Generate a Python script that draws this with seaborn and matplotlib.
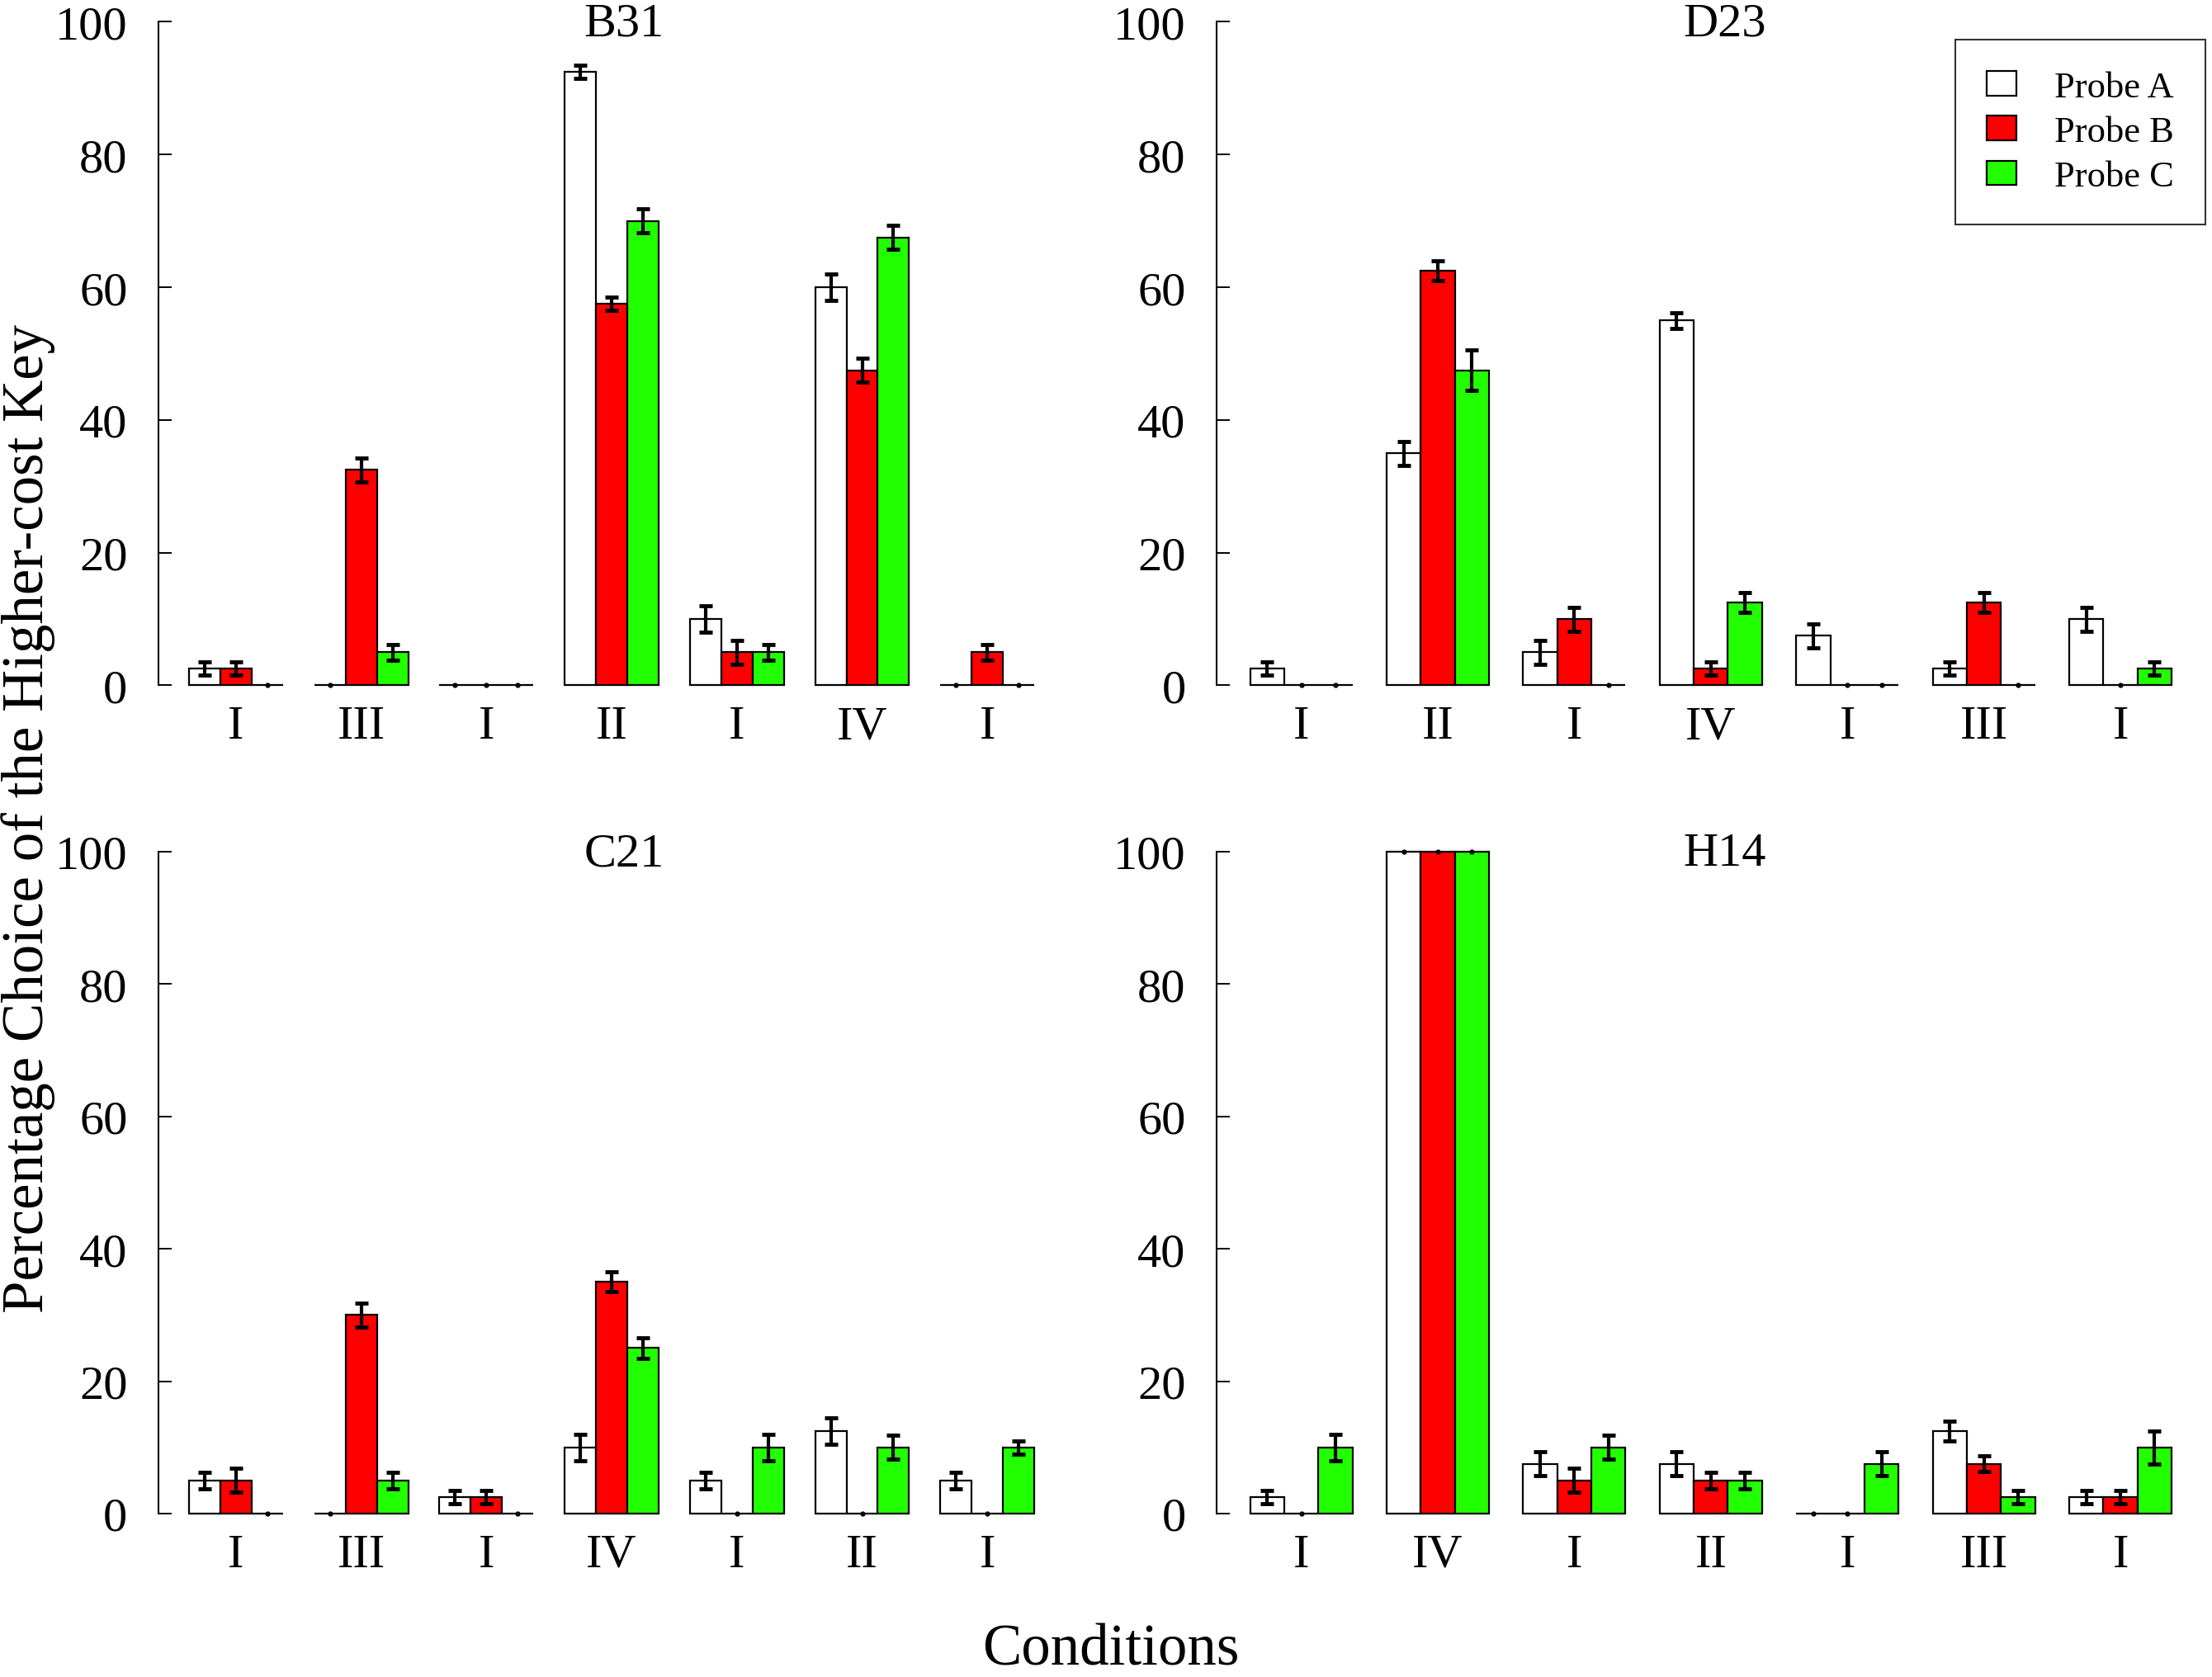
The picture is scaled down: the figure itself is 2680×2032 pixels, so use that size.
import pandas as pd
import numpy as np
import matplotlib
matplotlib.use("Agg")
import matplotlib.pyplot as plt
import seaborn as sns
from matplotlib.patches import Patch

# Dane (procent wyboru klucza o wyzszym koszcie)
probes = ["Probe A", "Probe B", "Probe C"]
colors = ["#FFFFFF", "#FF0000", "#22FF00"]

b31_conds = ["I", "III", "I", "II", "I", "IV", "I"]
b31_a = [2.5, 0, 0, 92.5, 10, 60, 0]
b31_b = [2.5, 32.5, 0, 57.5, 5, 47.5, 5]
b31_c = [0, 5, 0, 70, 5, 67.5, 0]
b31_a_err = [1, 0, 0, 1, 2, 2, 0]
b31_b_err = [1, 1.8, 0, 1, 1.8, 1.8, 1.2]
b31_c_err = [0, 1.2, 0, 1.8, 1.2, 1.8, 0]

d23_conds = ["I", "II", "I", "IV", "I", "III", "I"]
d23_a = [2.5, 35, 5, 55, 7.5, 2.5, 10]
d23_b = [0, 62.5, 10, 2.5, 0, 12.5, 0]
d23_c = [0, 47.5, 0, 12.5, 0, 0, 2.5]
d23_a_err = [1, 1.8, 1.8, 1.2, 1.8, 1, 1.8]
d23_b_err = [0, 1.5, 1.8, 1, 0, 1.5, 0]
d23_c_err = [0, 3, 0, 1.5, 0, 0, 1]

c21_conds = ["I", "III", "I", "IV", "I", "II", "I"]
c21_a = [5, 0, 2.5, 10, 5, 12.5, 5]
c21_b = [5, 30, 2.5, 35, 0, 0, 0]
c21_c = [0, 5, 0, 25, 10, 10, 10]
c21_a_err = [1.2, 0, 1, 2, 1.2, 2, 1.2]
c21_b_err = [1.8, 1.8, 1, 1.5, 0, 0, 0]
c21_c_err = [0, 1.2, 0, 1.5, 2, 1.8, 1]

h14_conds = ["I", "IV", "I", "II", "I", "III", "I"]
h14_a = [2.5, 100, 7.5, 7.5, 0, 12.5, 2.5]
h14_b = [0, 100, 5, 5, 0, 7.5, 2.5]
h14_c = [10, 100, 10, 5, 7.5, 2.5, 10]
h14_a_err = [1, 0, 1.8, 1.8, 0, 1.5, 1]
h14_b_err = [0, 0, 1.8, 1.2, 0, 1.2, 1]
h14_c_err = [2, 0, 1.8, 1.2, 1.8, 1, 2.5]

panels = [
    ("B31", b31_conds, [b31_a, b31_b, b31_c], [b31_a_err, b31_b_err, b31_c_err]),
    ("D23", d23_conds, [d23_a, d23_b, d23_c], [d23_a_err, d23_b_err, d23_c_err]),
    ("C21", c21_conds, [c21_a, c21_b, c21_c], [c21_a_err, c21_b_err, c21_c_err]),
    ("H14", h14_conds, [h14_a, h14_b, h14_c], [h14_a_err, h14_b_err, h14_c_err]),
]

sns.set_style("white")
plt.rcParams["font.family"] = ["Liberation Serif", "DejaVu Serif"]
plt.rcParams["text.color"] = "black"
plt.rcParams["axes.labelcolor"] = "black"

fig = plt.figure(figsize=(26.8, 20.33), dpi=100)
# pozycje osi [lewo, dol, szerokosc, wysokosc]
rects = [
    [0.0716, 0.591, 0.3974, 0.3955],
    [0.5500, 0.591, 0.4333, 0.3955],
    [0.0716, 0.0974, 0.3974, 0.3945],
    [0.5500, 0.0974, 0.4333, 0.3945],
]

for (name, conds, vals, errs), rect in zip(panels, rects):
    ax = fig.add_axes(rect)
    n = len(conds)
    df = pd.DataFrame({
        "pos": np.tile(np.arange(n), 3),
        "value": np.concatenate(vals),
        "probe": np.repeat(probes, n),
    })
    sns.barplot(data=df, x="pos", y="value", hue="probe", hue_order=probes,
                palette=colors, width=0.75, saturation=1, edgecolor="black",
                linewidth=1.6, errorbar=None, legend=False, ax=ax)
    for cont, v, e in zip(ax.containers, vals, errs):
        xs = np.array([p.get_x() + p.get_width() / 2 for p in cont])
        v = np.array(v, dtype=float)
        e = np.array(e, dtype=float)
        for p in cont:
            p.set_clip_on(False)
        m = e > 0
        eb = ax.errorbar(xs[m], v[m], yerr=e[m], fmt="none", ecolor="black",
                         elinewidth=3, capsize=5.5, capthick=3.5, zorder=5)
        for art in eb.lines[1] + eb.lines[2]:
            art.set_clip_on(False)
        ax.plot(xs[~m], v[~m], "o", color="black", markersize=3.5,
                zorder=5, clip_on=False)

    ax.set_xlim(-0.62, 6.4)
    ax.set_ylim(0, 100)
    ax.set_yticks([0, 20, 40, 60, 80, 100])
    ax.set_xticks(np.arange(n))
    ax.set_xticklabels(conds)
    ax.set_xlabel("")
    ax.set_ylabel("")
    for s in ["top", "right", "bottom"]:
        ax.spines[s].set_visible(False)
    ax.spines["left"].set_linewidth(1.5)
    ax.spines["left"].set_color("black")
    ax.tick_params(axis="y", direction="in", length=11.5, width=1.4,
                   pad=27, labelsize=42, left=True, colors="black")
    ax.tick_params(axis="x", length=0, pad=17, labelsize=42, colors="black")
    ax.text(0.53, 0.997, name, transform=ax.transAxes, ha="center",
            va="center", fontsize=42)

handles = [Patch(facecolor=c, edgecolor="black", linewidth=1.6) for c in colors]
leg = fig.legend(handles, probes, loc="upper right",
                 bbox_to_anchor=(0.997, 0.976), borderaxespad=0, fontsize=32,
                 frameon=True, fancybox=False, handlelength=0.8,
                 handleheight=0.65, handletextpad=1.05, labelspacing=0.32,
                 borderpad=0.85)
leg.get_frame().set_edgecolor("black")
leg.get_frame().set_linewidth(1.5)

fig.text(0.0127, 0.512, "Percentage Choice of the Higher-cost Key",
         rotation=90, ha="center", va="center", fontsize=51)
fig.text(0.502, 0.016, "Conditions", ha="center", va="center", fontsize=51)

fig.savefig("out.png", dpi=100, facecolor="white")
